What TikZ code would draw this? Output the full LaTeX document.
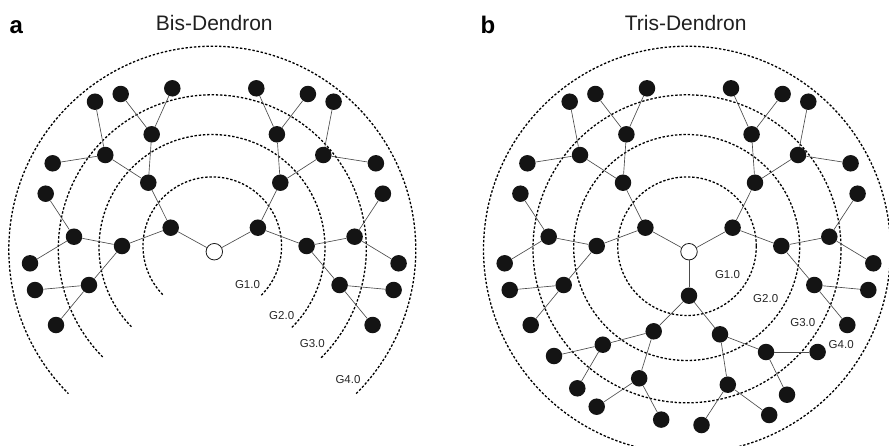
\documentclass[tikz,border=0pt]{standalone}
\usepackage{fontspec}
\setmainfont{Liberation Sans}
\begin{document}
\begin{tikzpicture}[x=1pt,y=1pt,yscale=-1,
  dot/.style={circle,fill=black!92,inner sep=0pt,minimum size=16.5pt},
  hub/.style={circle,draw=black!90,line width=0.8pt,fill=white,inner sep=0pt,minimum size=16.5pt},
  bond/.style={draw=black!70,line width=0.65pt},
  shell/.style={draw=black,line width=1.3pt,dash pattern=on 2.4pt off 1.8pt},
  glabel/.style={font=\fontsize{11.5}{12}\selectfont,text=black!85,inner sep=0pt},
  ttl/.style={font=\fontsize{21}{24}\selectfont,text=black!88,inner sep=0pt,anchor=base},
  plabel/.style={font=\fontsize{24}{26}\selectfont\bfseries,text=black,inner sep=0pt,anchor=base west}]
\useasboundingbox (0,0) rectangle (889,445);
\clip (0,0) rectangle (889,445);

% titles and panel letters
\node[plabel] (la) at (9.5,33.5) {a};
\node[plabel] (lb) at (480.5,33.5) {b};
\node[ttl] (ta) at (214.3,30.7) {Bis-Dendron};
\node[ttl] (tb) at (685.7,30.7) {Tris-Dendron};

% generation shells, panel a (open arcs)
\draw[shell] (212.3,246.2) ++(45:69.3) arc[start angle=45,end angle=-225,radius=69.3];
\draw[shell] (212.0,247.5) ++(45:113) arc[start angle=45,end angle=-225,radius=113];
\draw[shell] (212.3,248.8) ++(45:154) arc[start angle=45,end angle=-225,radius=154];
\draw[shell] (212.3,249.7) ++(45:203.5) arc[start angle=45,end angle=-225,radius=203.5];

% generation shells, panel b (full circles)
\draw[shell] (687,246.2) circle[radius=69.3];
\draw[shell] (686.7,247.5) circle[radius=113];
\draw[shell] (687,248.8) circle[radius=154];
\draw[shell] (687,249.7) circle[radius=203.5];

% generation labels
\node[glabel] (ga1) at (247.5,284.4) {G1.0};
\node[glabel] (ga2) at (281.7,316) {G2.0};
\node[glabel] (ga3) at (312.3,343.3) {G3.0};
\node[glabel] (ga4) at (348,379.3) {G4.0};
\node[glabel] (gb1) at (727.5,274.5) {G1.0};
\node[glabel] (gb2) at (765.7,298.5) {G2.0};
\node[glabel] (gb3) at (802.8,322.7) {G3.0};
\node[glabel] (gb4) at (841.2,344.4) {G4.0};

% cores
\node[hub] (a0) at (214.3,251.7) {};
\node[hub] (b0) at (689,251.7) {};

% branch nodes
\foreach \n/\x/\y in {
 aL1/170.7/227.7, aL2a/148.3/182.7, aL2b/122/246,
 aL3a/151.7/134.3, aL3b/105.3/155, aL3c/74/236.7, aL3d/89/285,
 aL4a/172.3/88.3, aL4b/120.7/94, aL4c/95/101.7, aL4d/52.7/163.3,
 aL4e/45.7/193.7, aL4f/30/263.3, aL4g/35/290, aL4h/56/325,
 aR1/257.9/227.7, aR2a/280.3/182.7, aR2b/306.6/246,
 aR3a/276.9/134.3, aR3b/323.3/155, aR3c/354.6/236.7, aR3d/339.6/285,
 aR4a/256.3/88.3, aR4b/307.9/94, aR4c/333.6/101.7, aR4d/375.9/163.3,
 aR4e/382.9/193.7, aR4f/398.6/263.3, aR4g/393.6/290, aR4h/372.6/325,
 bL1/645.4/227.7, bL2a/623/182.7, bL2b/596.7/246,
 bL3a/626.4/134.3, bL3b/580/155, bL3c/548.7/236.7, bL3d/563.7/285,
 bL4a/647/88.3, bL4b/595.4/94, bL4c/569.7/101.7, bL4d/527.4/163.3,
 bL4e/520.4/193.7, bL4f/504.7/263.3, bL4g/509.7/290, bL4h/530.7/325,
 bR1/732.6/227.7, bR2a/755/182.7, bR2b/781.3/246,
 bR3a/751.6/134.3, bR3b/798/155, bR3c/829.3/236.7, bR3d/814.3/285,
 bR4a/731/88.3, bR4b/782.6/94, bR4c/808.3/101.7, bR4d/850.6/163.3,
 bR4e/857.6/193.7, bR4f/873.3/263.3, bR4g/868.3/290, bR4h/847.3/325,
 bD1/689/295.7, bD2a/653.7/331.3, bD2b/720/334.3,
 bD3a/602.8/344.7, bD3b/639.2/378.3, bD3c/766/352, bD3d/727.8/384.7,
 bD4a/554/356, bD4b/577.3/388.3, bD4c/596.7/406.7, bD4d/661.2/419.6,
 bD4e/817.6/352, bD4f/787/394.7, bD4g/769.2/415, bD4h/701.5/425}
 \node[dot] (\n) at (\x,\y) {};

% bonds
\foreach \p/\c in {a0/aL1, a0/aR1, b0/bL1, b0/bR1, b0/bD1}
 \draw[bond] (\p) -- (\c);
\foreach \P in {aL,aR,bL,bR,bD}{
 \draw[bond] (\P1) -- (\P2a);
 \draw[bond] (\P1) -- (\P2b);
 \draw[bond] (\P2a) -- (\P3a);
 \draw[bond] (\P2a) -- (\P3b);
 \draw[bond] (\P2b) -- (\P3c);
 \draw[bond] (\P2b) -- (\P3d);
 \draw[bond] (\P3a) -- (\P4a);
 \draw[bond] (\P3a) -- (\P4b);
 \draw[bond] (\P3b) -- (\P4c);
 \draw[bond] (\P3b) -- (\P4d);
 \draw[bond] (\P3c) -- (\P4e);
 \draw[bond] (\P3c) -- (\P4f);
 \draw[bond] (\P3d) -- (\P4g);
 \draw[bond] (\P3d) -- (\P4h);
}
\end{tikzpicture}
\end{document}
